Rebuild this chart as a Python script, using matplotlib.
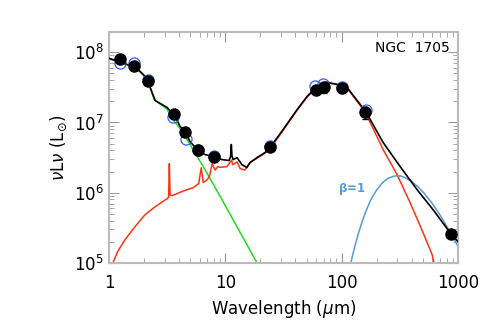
import numpy as np
import matplotlib
matplotlib.use('Agg')
import matplotlib.pyplot as plt

# observed photometry (filled black points)
obs_wave = [1.25, 1.65, 2.16, 3.6, 4.5, 5.8, 8.0, 24, 60, 70, 100, 160, 870]
obs_lum = [7.9e7, 6.3e7, 3.85e7, 1.3e7, 7.4e6, 4.0e6, 3.27e6, 4.5e6, 2.9e7, 3.2e7, 3.06e7, 1.39e7, 2.6e5]
obs_err = [0, 0, 0, 0, 0, 6e5, 0, 0, 0, 6e6, 0, 2.8e6, 0]

# model photometry (open blue circles)
mod_wave = [1.24, 1.64, 2.16, 3.55, 4.6, 5.8, 8.0, 24, 59, 69, 100, 162]
mod_lum = [7.0e7, 7.0e7, 4.0e7, 1.18e7, 5.9e6, 4.1e6, 3.3e6, 4.6e6, 3.27e7, 3.5e7, 3.2e7, 1.5e7]

# total model
tot_wave = [1.0, 1.27, 1.42, 1.67, 2.0, 2.16, 2.49, 3.15, 3.7, 4.08, 4.5, 4.97, 5.8,
            6.69, 7.84, 9.37, 10.76, 11.1, 11.25, 11.4, 11.66, 12.6, 13.9, 15.3, 16.3,
            18.7, 21.9, 24.2, 31.3, 41.4, 50.4, 61.4, 74.9, 91.3, 111, 144, 160,
            227, 318, 445, 611, 855, 1000]
tot_lum = [8.2e7, 7.2e7, 6.7e7, 6.3e7, 4.7e7, 3.85e7, 2.06e7, 1.64e7, 1.22e7, 8.8e6, 7.4e6, 5.35e6, 4.0e6,
           3.49e6, 3.27e6, 2.96e6, 2.87e6, 3.3e6, 4.85e6, 3.3e6, 2.96e6, 3.16e6, 2.5e6, 2.28e6, 2.68e6,
           3.16e6, 3.73e6, 4.4e6, 7.9e6, 1.53e7, 2.35e7, 3.27e7, 3.73e7, 3.49e7, 3.16e7, 1.81e7, 1.45e7,
           5.18e6, 2.35e6, 1.1e6, 5.7e5, 2.68e5, 2.0e5]

# stellar component
star_wave = [1.0, 1.27, 1.42, 1.67, 2.0, 2.16, 2.45, 3.15, 3.55, 4.32, 5.28, 6.68, 9.37, 18.7, 21.0]
star_lum = [8.1e7, 7.1e7, 6.6e7, 6.2e7, 4.6e7, 3.8e7, 2.1e7, 1.55e7, 1.1e7, 7.2e6, 4.1e6, 2.13e6, 7.9e5, 1.0e5, 7.0e4]

# warm dust + PAH component
dust_wave = [1.08, 1.195, 1.37, 1.67, 2.04, 2.49, 3.15, 3.25, 3.3, 3.35, 3.5, 4.3, 5.3, 5.9, 6.2, 6.45,
             6.9, 7.3, 7.7, 8.15, 8.6, 8.98, 10.3, 11.3, 11.6, 12.6, 13.4, 14.7, 16.3, 18.7,
             21.1, 24.2, 31.3, 41.4, 50.4, 61.4, 74.9, 91.3, 111, 144, 160, 227, 299, 387,
             501, 599, 640]
dust_lum = [1.0e5, 1.48e5, 2.13e5, 3.27e5, 4.85e5, 6.3e5, 8.2e5, 8.6e5, 2.6e6, 9.3e5, 9.1e5, 1.05e6, 1.18e6, 1.35e6, 2.27e6, 1.4e6,
            1.5e6, 1.7e6, 2.6e6, 2.1e6, 2.35e6, 2.3e6, 2.35e6, 2.9e6, 2.5e6, 2.75e6, 2.2e6, 2.1e6, 2.7e6, 3.1e6,
            3.5e6, 4.2e6, 7.7e6, 1.5e7, 2.3e7, 3.22e7, 3.7e7, 3.45e7, 3.1e7, 1.75e7, 1.38e7, 4.1e6, 1.81e6, 7.2e5,
            2.68e5, 1.3e5, 8.0e4]

# cold dust, beta = 1
cold_wave = [115, 120, 125, 130, 140, 150, 160, 175, 185, 200, 225, 250, 275, 300, 325, 350, 400, 450,
             500, 550, 600, 700, 800, 900, 1000]
cold_lum = [7.3e4, 1.01e5, 1.36e5, 1.76e5, 2.74e5, 3.9e5, 5.27e5, 7.5e5, 8.94e5, 1.10e6, 1.40e6, 1.60e6,
            1.70e6, 1.75e6, 1.72e6, 1.64e6, 1.44e6, 1.22e6, 1.02e6, 8.44e5, 7.0e5, 4.8e5, 3.3e5, 2.37e5, 1.7e5]

fig = plt.figure(figsize=(4.91, 3.27), dpi=100)
ax = fig.add_axes([0.222, 0.196, 0.711, 0.706])

ax.plot(star_wave, star_lum, color='#22dd22', lw=1.1, zorder=2)
ax.plot(dust_wave, dust_lum, color='#ff3311', lw=1.1, zorder=2)
ax.plot(cold_wave, cold_lum, color='#5a9bd0', lw=1.1, zorder=2)
ax.plot(tot_wave, tot_lum, color='black', lw=1.2, zorder=3)

ax.plot(mod_wave, mod_lum, 'o', mfc='none', mec='#3a5cf0', mew=0.9, ms=8, zorder=4)
ax.errorbar(obs_wave, obs_lum, yerr=obs_err, fmt='o', color='black', ms=8,
            elinewidth=0.8, capsize=2, zorder=5)

ax.text(123, 1.14e6, r'$\mathbf{\beta}$=1', color='#5a9bd0', fontsize=8.5,
        fontweight='bold', ha='center', va='center')
ax.text(0.975, 0.93, 'NGC  1705', transform=ax.transAxes, ha='right', va='center', fontsize=10)

ax.set_xscale('log')
ax.set_yscale('log')
ax.set_xlim(1, 1000)
ax.set_ylim(1e5, 1.94e8)
ax.set_xlabel(r'Wavelength ($\mu$m)', fontsize=12)
ax.set_ylabel(r'$\nu$L$\nu$ (L$_{\odot}$)', fontsize=12)

for s in ax.spines.values():
    s.set_color('#bbbbbb')
    s.set_linewidth(1.5)
ax.tick_params(which='both', direction='in', top=True, right=True, color='#999999', labelsize=12)
ax.tick_params(which='major', length=7)
ax.tick_params(which='minor', length=3.5)
ax.set_xticks([1, 10, 100, 1000])
ax.set_xticklabels(['1', '10', '100', '1000'])
ax.tick_params(axis='x', pad=8)

fig.savefig('out.png', dpi=100)
